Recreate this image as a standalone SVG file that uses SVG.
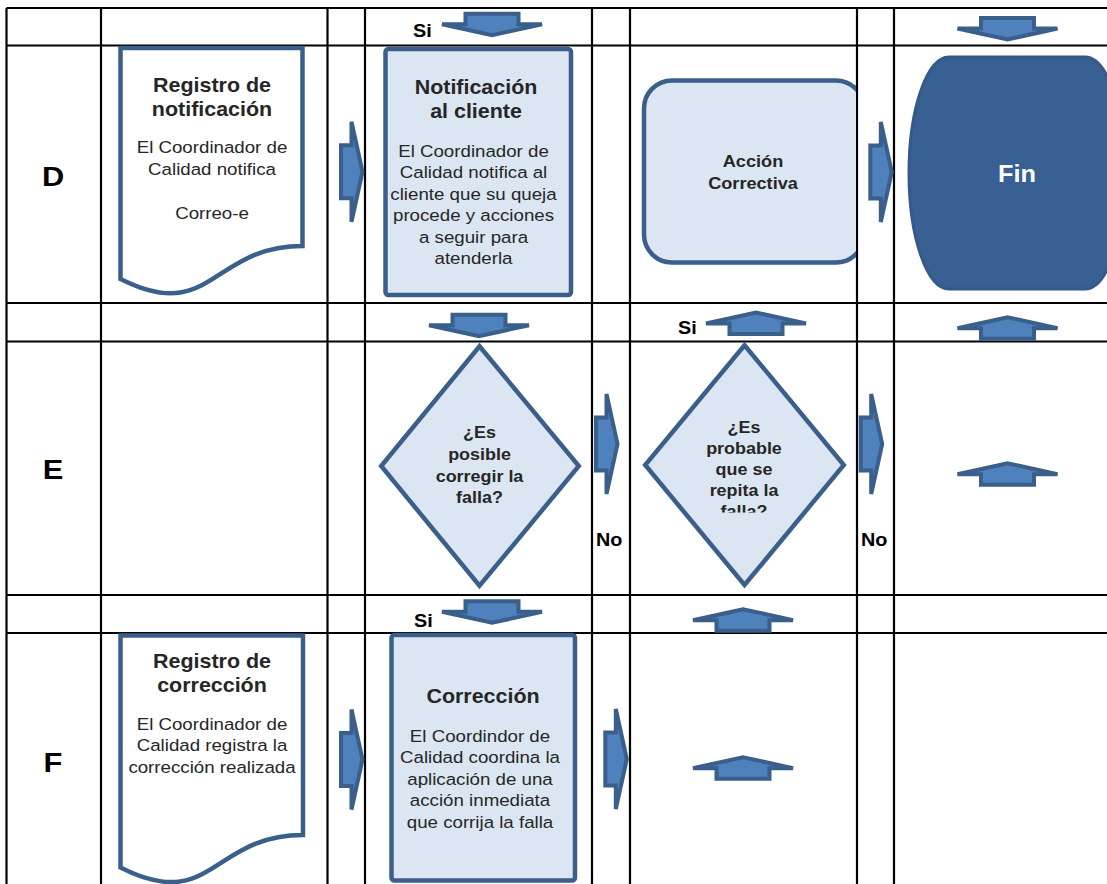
<svg xmlns="http://www.w3.org/2000/svg" xmlns:xlink="http://www.w3.org/1999/xlink" width="1107" height="884" viewBox="0 0 1107 884">
<style>
.grid{stroke:#000;stroke-width:2.2;fill:none}
.box{fill:#DCE6F2;stroke:#3A5F8B;stroke-width:4.5}
.doc{fill:#FFFFFF;stroke:#3A5F8B;stroke-width:4.5}
.lbl{font-family:"Liberation Sans",Arial,sans-serif;font-weight:bold;fill:#000}
.ttl{font-family:"Liberation Sans",Arial,sans-serif;font-weight:bold;fill:#262626;text-anchor:middle}
.body{font-family:"Liberation Sans",Arial,sans-serif;fill:#262626;text-anchor:middle;font-size:17px}
</style>
<defs>
<path id="arr" d="M-26.5,2 H26.5 V12.5 H50 L0,23.5 L-50,12.5 H-26.5 Z" fill="#4F81BD" stroke="#3A5F8B" stroke-width="4" stroke-linejoin="miter" stroke-miterlimit="4"/>
<clipPath id="clipAccion"><rect x="600" y="60" width="256" height="230"/></clipPath>
<clipPath id="clipD2"><rect x="640" y="340" width="210" height="172.5"/></clipPath>
</defs>
<rect x="0" y="0" width="1107" height="884" fill="#FFFFFF"/>
<g id="grid" class="grid">
<line x1="6.5" y1="8" x2="1107" y2="8"/>
<line x1="6.5" y1="45.5" x2="1107" y2="45.5"/>
<line x1="6.5" y1="303" x2="1107" y2="303"/>
<line x1="6.5" y1="341.5" x2="1107" y2="341.5"/>
<line x1="6.5" y1="595" x2="1107" y2="595"/>
<line x1="6.5" y1="633" x2="1107" y2="633"/>
<line x1="6.5" y1="8" x2="6.5" y2="884"/>
<line x1="101" y1="8" x2="101" y2="884"/>
<line x1="327.5" y1="8" x2="327.5" y2="884"/>
<line x1="365" y1="8" x2="365" y2="884"/>
<line x1="592" y1="8" x2="592" y2="884"/>
<line x1="630" y1="8" x2="630" y2="884"/>
<line x1="857" y1="8" x2="857" y2="884"/>
<line x1="894" y1="8" x2="894" y2="884"/>
</g>
<g id="rowlabels" class="lbl" font-size="28">
<text transform="matrix(1.1 0 0 1 53 0)" x="0" y="186" text-anchor="middle">D</text>
<text transform="matrix(1.1 0 0 1 53 0)" x="0" y="479" text-anchor="middle">E</text>
<text transform="matrix(1.1 0 0 1 53 0)" x="0" y="772" text-anchor="middle">F</text>
</g>
<g id="connectors">
<use xlink:href="#arr" href="#arr" transform="translate(492,11.7)"/>
<use xlink:href="#arr" href="#arr" transform="translate(1007.5,16)"/>
<use xlink:href="#arr" href="#arr" transform="translate(479,312.7)"/>
<use xlink:href="#arr" href="#arr" transform="translate(492,599.3)"/>
<use xlink:href="#arr" href="#arr" transform="translate(756,336) rotate(180)"/>
<use xlink:href="#arr" href="#arr" transform="translate(1007.5,340.7) rotate(180)"/>
<use xlink:href="#arr" href="#arr" transform="translate(1007.5,486.7) rotate(180)"/>
<use xlink:href="#arr" href="#arr" transform="translate(743,632.7) rotate(180)"/>
<use xlink:href="#arr" href="#arr" transform="translate(743,780.7) rotate(180)"/>
<use xlink:href="#arr" href="#arr" transform="translate(339,171.7) rotate(-90)"/>
<use xlink:href="#arr" href="#arr" transform="translate(868.3,172) rotate(-90)"/>
<use xlink:href="#arr" href="#arr" transform="translate(594,444) rotate(-90)"/>
<use xlink:href="#arr" href="#arr" transform="translate(858.7,444) rotate(-90)"/>
<use xlink:href="#arr" href="#arr" transform="translate(339,759.5) rotate(-90)"/>
<use xlink:href="#arr" href="#arr" transform="translate(603.3,759) rotate(-90)"/>
<g class="lbl" font-size="18">
<text transform="matrix(1.1 0 0 1 413 0)" x="0" y="37.5">Si</text>
<text transform="matrix(1.1 0 0 1 678 0)" x="0" y="334">Si</text>
<text transform="matrix(1.1 0 0 1 414 0)" x="0" y="627">Si</text>
<text transform="matrix(1.1 0 0 1 596 0)" x="0" y="546">No</text>
<text transform="matrix(1.1 0 0 1 861 0)" x="0" y="546">No</text>
</g>
</g>
<g id="registro-notificacion">
<path class="doc" d="M120.5,48 H302.5 V246 C211.5,246 211.5,325 120.5,279 Z"/>
<text class="ttl" font-size="19.5" transform="matrix(1.1 0 0 1 212 0)"><tspan x="0" y="92">Registro de</tspan><tspan x="0" y="116">notificación</tspan></text>
<text class="body" transform="matrix(1.1 0 0 1 212 0)"><tspan x="0" y="153">El Coordinador de</tspan><tspan x="0" y="175">Calidad notifica</tspan><tspan x="0" y="219">Correo-e</tspan></text>
</g>
<g id="notificacion-cliente">
<rect class="box" x="385.5" y="49" width="185.5" height="246" rx="3"/>
<text class="ttl" font-size="19.5" transform="matrix(1.1 0 0 1 476 0)"><tspan x="0" y="94">Notificación</tspan><tspan x="0" y="118">al cliente</tspan></text>
<text class="body" transform="matrix(1.1 0 0 1 473.5 0)"><tspan x="0" y="157">El Coordinador de</tspan><tspan x="0" y="178.5">Calidad notifica al</tspan><tspan x="0" y="200">cliente que su queja</tspan><tspan x="0" y="221.5">procede y acciones</tspan><tspan x="0" y="243">a seguir para</tspan><tspan x="0" y="264.5">atenderla</tspan></text>
</g>
<g id="accion-correctiva" clip-path="url(#clipAccion)">
<rect class="box" x="644" y="80.5" width="220" height="182" rx="28"/>
<text class="ttl" font-size="16.5" transform="matrix(1.1 0 0 1 753 0)"><tspan x="0" y="167.5">Acción</tspan><tspan x="0" y="189.5">Correctiva</tspan></text>
</g>
<g id="fin">
<path d="M949,57 H1085 A40,116 0 0 1 1085,289 H949 A40,116 0 0 1 949,57 Z" fill="#386092" stroke="#35598A" stroke-width="3"/>
<text font-family="Liberation Sans, Arial, sans-serif" font-weight="bold" font-size="23" fill="#FFFFFF" text-anchor="middle" transform="matrix(1.1 0 0 1 1017 0)" x="0" y="182">Fin</text>
</g>
<g id="decision-corregir">
<path class="box" d="M479.5,346.3 L578.8,466 L479.5,585.8 L381.2,466 Z"/>
<text class="ttl" font-size="16.3" transform="matrix(1.1 0 0 1 479.5 0)"><tspan x="0" y="438.5">¿Es</tspan><tspan x="0" y="460.5">posible</tspan><tspan x="0" y="482">corregir la</tspan><tspan x="0" y="503.5">falla?</tspan></text>
</g>
<g id="decision-repita">
<path class="box" d="M744.5,345.2 L843.8,465 L744.5,585 L645.2,465 Z"/>
<g clip-path="url(#clipD2)">
<text class="ttl" font-size="16.3" transform="matrix(1.1 0 0 1 744 0)"><tspan x="0" y="433">¿Es</tspan><tspan x="0" y="454.5">probable</tspan><tspan x="0" y="475.5">que se</tspan><tspan x="0" y="496">repita la</tspan><tspan x="0" y="517">falla?</tspan></text>
</g>
</g>
<g id="registro-correccion">
<path class="doc" d="M120.5,635.5 H303 V835 C211.75,835 211.75,914 120.5,867.5 Z"/>
<text class="ttl" font-size="19.5" transform="matrix(1.1 0 0 1 212 0)"><tspan x="0" y="668.5">Registro de</tspan><tspan x="0" y="692">corrección</tspan></text>
<text class="body" transform="matrix(1.1 0 0 1 212 0)"><tspan x="0" y="730">El Coordinador de</tspan><tspan x="0" y="751.5">Calidad registra la</tspan><tspan x="0" y="773">corrección realizada</tspan></text>
</g>
<g id="correccion">
<rect class="box" x="391.5" y="635" width="183.5" height="245.5" rx="3"/>
<text class="ttl" font-size="19.5" transform="matrix(1.1 0 0 1 483 0)" x="0" y="703.5">Corrección</text>
<text class="body" transform="matrix(1.1 0 0 1 480 0)"><tspan x="0" y="742">El Coordindor de</tspan><tspan x="0" y="763.5">Calidad coordina la</tspan><tspan x="0" y="785">aplicación de una</tspan><tspan x="0" y="806.5">acción inmediata</tspan><tspan x="0" y="828">que corrija la falla</tspan></text>
</g>
</svg>
